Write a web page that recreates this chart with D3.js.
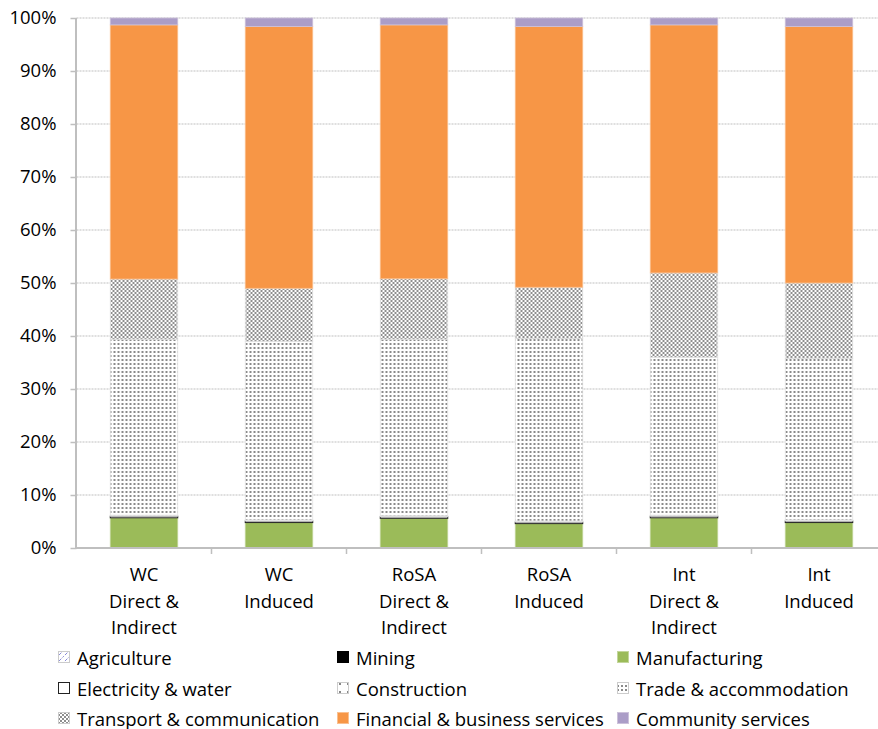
<!DOCTYPE html>
<html>
<head>
<meta charset="utf-8">
<script src="https://cdn.jsdelivr.net/npm/d3@7"></script>
<style>
  body { margin: 0; background: #fff; }
  text { font-family: "Open Sans", Lato, sans-serif; fill: #000; }
</style>
</head>
<body>
<div id="chart"></div>
<script>
// categories (x labels split into lines)
const categories = ['WC|Direct &|Indirect', 'WC|Induced', 'RoSA|Direct &|Indirect', 'RoSA|Induced', 'Int|Direct &|Indirect', 'Int|Induced'];
const sectors = ['Agriculture', 'Mining', 'Manufacturing', 'Electricity & water', 'Construction',
  'Trade & accommodation', 'Transport & communication', 'Financial & business services', 'Community services'];

// shares in percent, one array per sector, in category order
const agriculture   = [0.05, 0.05, 0.05, 0.05, 0.05, 0.05];
const mining        = [0.05, 0.05, 0.05, 0.05, 0.05, 0.05];
const manufacturing = [5.6, 4.7, 5.5, 4.5, 5.6, 4.7];
const electricity   = [0.3, 0.3, 0.3, 0.3, 0.3, 0.3];
const construction  = [0.2, 0.2, 0.2, 0.2, 0.2, 0.2];
const trade         = [33.2, 33.7, 33.3, 34.4, 29.8, 30.5];
const transport     = [11.35, 10.0, 11.4, 9.7, 15.9, 14.2];
const financial     = [47.95, 49.4, 47.9, 49.2, 46.8, 48.4];
const community     = [1.3, 1.6, 1.3, 1.6, 1.3, 1.6];

const seriesValues = [agriculture, mining, manufacturing, electricity, construction, trade, transport, financial, community];
const yTicks = [0, 0.1, 0.2, 0.3, 0.4, 0.5, 0.6, 0.7, 0.8, 0.9, 1];

const data = categories.map((c, i) => {
  const row = { cat: c };
  sectors.forEach((s, j) => { row[s] = seriesValues[j][i] / 100; });
  return row;
});

const margin = { top: 18, left: 76.5 };
const W = 878, H = 729;
const width = 886.5 - margin.left;
const height = 548 - margin.top;

const svg = d3.select('#chart').append('svg')
  .attr('width', W).attr('height', H);

// patterns
const defs = svg.append('defs');
const pAgri = defs.append('pattern').attr('id', 'p-agri').attr('width', 6).attr('height', 6)
  .attr('patternUnits', 'userSpaceOnUse');
pAgri.append('rect').attr('width', 6).attr('height', 6).attr('fill', '#fff');
pAgri.append('path').attr('d', 'M0,6 L6,0').attr('stroke', '#8a8ad8').attr('stroke-width', 1)
  .attr('stroke-dasharray', '2,1.5');

const pCon = defs.append('pattern').attr('id', 'p-con').attr('width', 8).attr('height', 8)
  .attr('patternUnits', 'userSpaceOnUse');
pCon.append('rect').attr('width', 8).attr('height', 8).attr('fill', '#fff');
pCon.append('rect').attr('x', 3).attr('y', 3).attr('width', 2).attr('height', 2).attr('fill', '#888');

const pTrade = defs.append('pattern').attr('id', 'p-trade').attr('width', 4).attr('height', 4)
  .attr('patternUnits', 'userSpaceOnUse');
pTrade.append('rect').attr('width', 4).attr('height', 4).attr('fill', '#fff');
pTrade.append('rect').attr('x', 1).attr('y', 1).attr('width', 2).attr('height', 2).attr('fill', '#8a8a8a');

const pTrans = defs.append('pattern').attr('id', 'p-trans').attr('width', 4).attr('height', 4)
  .attr('patternUnits', 'userSpaceOnUse');
pTrans.append('rect').attr('width', 4).attr('height', 4).attr('fill', '#fff');
pTrans.append('rect').attr('x', 0).attr('y', 0).attr('width', 2).attr('height', 2).attr('fill', '#8e8e8e');
pTrans.append('rect').attr('x', 2).attr('y', 2).attr('width', 2).attr('height', 2).attr('fill', '#8e8e8e');

const fills = {
  'Agriculture': 'url(#p-agri)',
  'Mining': '#000',
  'Manufacturing': '#9bbb59',
  'Electricity & water': '#fff',
  'Construction': 'url(#p-con)',
  'Trade & accommodation': 'url(#p-trade)',
  'Transport & communication': 'url(#p-trans)',
  'Financial & business services': '#f79646',
  'Community services': '#ab9dc7'
};
const strokes = {
  'Mining': '#000',
  'Manufacturing': '#c3d69b',
  'Electricity & water': '#222',
  'Financial & business services': '#fac090',
  'Community services': '#ccc1da'
};

const g = svg.append('g').attr('transform', `translate(${margin.left},${margin.top})`);

const x = d3.scaleBand().domain(categories).range([0, width]).paddingInner(0.5).paddingOuter(0.25);
const y = d3.scaleLinear().domain([0, 1]).range([height, 0]);

// gridlines
g.append('g').selectAll('line').data(yTicks.slice(1)).join('line')
  .attr('x1', 0).attr('x2', width)
  .attr('y1', d => y(d)).attr('y2', d => y(d))
  .attr('stroke', '#bfbfbf').attr('stroke-width', 1).attr('stroke-dasharray', '2,1');

// bars
const stack = d3.stack().keys(sectors);
const layers = stack(data);
g.selectAll('g.layer').data(layers).join('g').attr('class', 'layer')
  .each(function (layer) {
    const key = layer.key;
    d3.select(this).selectAll('rect').data(layer).join('rect')
      .attr('x', d => x(d.data.cat))
      .attr('width', x.bandwidth())
      .attr('y', d => y(d[1]))
      .attr('height', d => Math.max(0, y(d[0]) - y(d[1])))
      .attr('fill', fills[key])
      .attr('stroke', strokes[key] || '#e0e0e0')
      .attr('stroke-width', key === 'Electricity & water' ? 1 : 0.8);
  });

// y axis
const yAxis = g.append('g').call(d3.axisLeft(y).tickValues(yTicks).tickFormat(d3.format('.0%')).tickSize(6).tickPadding(14));
yAxis.select('.domain').attr('stroke', '#bfbfbf').attr('stroke-width', 2).attr('d', `M-0.5,0V${height}`);
yAxis.selectAll('.tick line').attr('stroke', '#bfbfbf').attr('stroke-width', 1.5);
yAxis.selectAll('.tick text').style('font-size', '18.5px').style('font-family', '"Open Sans", Lato, sans-serif').attr('fill', '#000');

// x axis
const xAxis = g.append('g').attr('transform', `translate(0,${height})`);
xAxis.append('line').attr('x1', -1).attr('x2', width).attr('y1', 0).attr('y2', 0)
  .attr('stroke', '#bfbfbf').attr('stroke-width', 2);
const step = x.step();
xAxis.selectAll('line.sep').data(categories.slice(1)).join('line').attr('class', 'sep')
  .attr('x1', d => x(d) - step * 0.25).attr('x2', d => x(d) - step * 0.25)
  .attr('y1', 0).attr('y2', 6).attr('stroke', '#bfbfbf').attr('stroke-width', 1.5);
xAxis.selectAll('text.cat').data(categories).join('text').attr('class', 'cat')
  .attr('text-anchor', 'middle')
  .attr('transform', d => `translate(${x(d) + x.bandwidth() / 2},0)`)
  .style('font-size', '18.5px')
  .each(function (d) {
    const t = d3.select(this);
    d.split('|').forEach((line, i) => {
      t.append('tspan').attr('x', 0).attr('y', 33 + i * 26.5).text(line);
    });
  });

// legend
const legendCols = [58, 337, 617];
const legendRows = [658, 689, 719];
const legend = svg.append('g');
sectors.forEach((s, i) => {
  const lx = legendCols[i % 3], ly = legendRows[Math.floor(i / 3)];
  legend.append('rect').attr('x', lx + 0.5).attr('y', ly - 6.5).attr('width', 11).attr('height', 11)
    .attr('fill', fills[s]).attr('stroke', s === 'Electricity & water' ? '#222' : (strokes[s] || '#ccc'))
    .attr('stroke-width', 1);
  legend.append('text').attr('x', lx + 19).attr('y', ly + 6.5)
    .style('font-size', '18.5px').text(s);
});
</script>
</body>
</html>
